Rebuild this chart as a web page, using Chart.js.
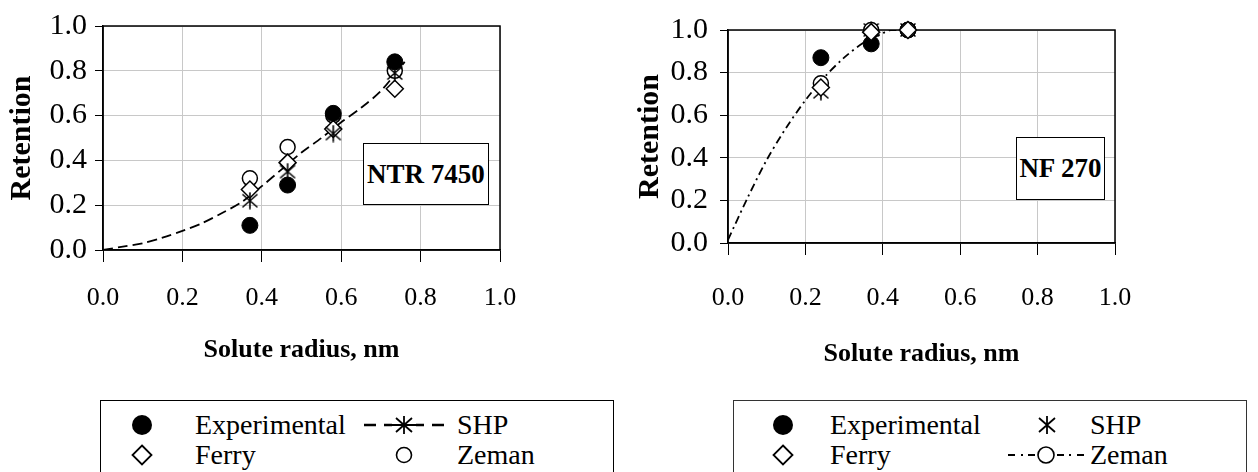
<!DOCTYPE html>
<html>
<head>
<meta charset="utf-8">
<script src="https://cdn.jsdelivr.net/npm/chart.js@4.4.0/dist/chart.umd.min.js"></script>
<style>
  body { margin: 0; background: #fff; width: 1258px; height: 472px; overflow: hidden; position: relative; font-family: "Liberation Serif", "Times New Roman", serif; }
  .cv { position: absolute; top: 0; }
  .tag { position: absolute; background: #fff; border: 1.5px solid #000; box-sizing: border-box;
         font-weight: bold; font-size: 27px; display: flex; align-items: center; justify-content: center; }
  .legend { position: absolute; top: 400px; height: 90px; border: 1.5px solid #000; box-sizing: border-box; background: #fff; }
  .lt { position: absolute; font-size: 28px; line-height: 30px; white-space: nowrap; }
  .ls { position: absolute; }
</style>
</head>
<body>
<div class="cv" style="left:0;width:620px;height:400px"><canvas id="graf_ntr"></canvas></div>
<div class="cv" style="left:620px;width:638px;height:400px"><canvas id="graf_nf"></canvas></div>

<div class="tag" style="left:363px;top:143px;width:126px;height:62px">NTR 7450</div>
<div class="tag" style="left:1016px;top:137px;width:89px;height:63px">NF 270</div>

<!-- leyendas -->
<div class="legend" style="left:100px;width:514px"></div>
<div class="legend" style="left:733px;width:514px;border-color:#333"></div>

<div id="leyendas"></div>

<script>
// --- DATOS NTR 7450 ---
const radioNtr = [0.37, 0.465, 0.58, 0.735];
const expNtr = [0.11, 0.29, 0.61, 0.84];
const shpNtr = [0.22, 0.35, 0.52, 0.79];
const ferryNtr = [0.27, 0.39, 0.54, 0.72];
const zemanNtr = [0.32, 0.46, 0.60, 0.80];
// curva del modelo SHP (línea discontinua)
const curvaNtrX = [0, 0.05, 0.1, 0.15, 0.2, 0.25, 0.3, 0.35, 0.4, 0.45, 0.5, 0.55, 0.6, 0.65, 0.7, 0.76];
const curvaNtrY = [0, 0.015, 0.03, 0.055, 0.085, 0.12, 0.165, 0.215, 0.285, 0.36, 0.435, 0.5, 0.57, 0.635, 0.71, 0.84];

// --- DATOS NF 270 ---
const radioNf = [0.24, 0.37, 0.465];
const expNf = [0.87, 0.935, 1.0];
const shpNf = [0.71, 1.0, 1.0];
const ferryNf = [0.73, 0.99, 1.0];
const zemanNf = [0.75, 1.0, 1.0];
// curva del modelo Zeman (línea discontinua)
const curvaNfX = [0, 0.05, 0.1, 0.15, 0.2, 0.25, 0.3, 0.35, 0.4, 0.42, 0.47];
const curvaNfY = [0.015, 0.21, 0.39, 0.54, 0.67, 0.78, 0.87, 0.94, 0.985, 1.0, 1.0];

const ticks = [0, 0.2, 0.4, 0.6, 0.8, 1.0];

// --- SIMBOLO ASTERISCO (X con barra vertical) ---
function hacerAsterisco(tam) {
    const c = document.createElement("canvas");
    c.width = tam; c.height = tam;
    const g = c.getContext("2d");
    g.strokeStyle = "#000";
    g.lineWidth = 1.6;
    const m = 1.5, h = tam / 2;
    g.beginPath();
    g.moveTo(m, m + 1); g.lineTo(tam - m, tam - m - 1);
    g.moveTo(tam - m, m + 1); g.lineTo(m, tam - m - 1);
    g.moveTo(h, 0.5); g.lineTo(h, tam - 0.5);
    g.stroke();
    return c;
}
const asterisco = hacerAsterisco(18);

function puntos(xs, ys) {
    return xs.map((x, i) => ({ x: x, y: ys[i] }));
}

// marco negro alrededor del área de trazado
const marco = {
    id: "marco",
    beforeDatasetsDraw(chart) {
        const a = chart.chartArea, ctx = chart.ctx;
        ctx.save();
        ctx.strokeStyle = "#000";
        ctx.lineWidth = 1.5;
        ctx.strokeRect(a.left, a.top, a.right - a.left, a.bottom - a.top);
        ctx.restore();
    }
};

function crearGrafica(id, cfg) {
    return new Chart(document.getElementById(id), {
        type: "scatter",
        data: { datasets: cfg.datasets },
        options: {
            responsive: true,
            maintainAspectRatio: false,
            animation: false,
            layout: { padding: { left: 0, top: cfg.top, right: cfg.right, bottom: 0 } },
            plugins: { legend: { display: false }, tooltip: { enabled: false } },
            scales: {
                x: {
                    type: "linear", min: 0, max: 1,
                    afterBuildTicks: s => { s.ticks = ticks.map(v => ({ value: v })); },
                    afterFit: s => { s.height = cfg.altoX; },
                    grid: { color: "#c8c8c8", lineWidth: 1, tickColor: "#000", tickLength: 12 },
                    border: { color: "#000", width: 1.5 },
                    ticks: {
                        color: "#000", padding: cfg.padX,
                        font: { family: "Liberation Serif", size: 26 },
                        callback: v => v.toFixed(1)
                    },
                    title: {
                        display: true, text: "Solute radius, nm", color: "#000",
                        font: { family: "Liberation Serif", size: 26, weight: "bold" },
                        padding: { top: 0, bottom: cfg.padTitX }
                    }
                },
                y: {
                    type: "linear", min: 0, max: 1,
                    afterBuildTicks: s => { s.ticks = ticks.map(v => ({ value: v })); },
                    afterFit: s => { s.width = cfg.anchoY; },
                    grid: { color: "#c8c8c8", lineWidth: 1, tickColor: "#000", tickLength: 8 },
                    border: { color: "#000", width: 1.5 },
                    ticks: {
                        color: "#000", padding: cfg.padY,
                        font: { family: "Liberation Serif", size: 30 },
                        callback: v => v.toFixed(1)
                    },
                    title: {
                        display: true, text: "Retention", color: "#000",
                        font: { family: "Liberation Serif", size: 30, weight: "bold" },
                        padding: { top: cfg.padTitY, bottom: 0 }
                    }
                }
            }
        },
        plugins: [marco]
    });
}

const estiloExp = { pointStyle: "circle", pointRadius: 8, backgroundColor: "#000", borderColor: "#000", borderWidth: 1, clip: false };
const estiloZeman = { pointStyle: "circle", pointRadius: 7.5, backgroundColor: "#fff", borderColor: "#000", borderWidth: 1.5, clip: false };
const estiloFerry = { pointStyle: "rectRot", pointRadius: 8.5, backgroundColor: "#fff", borderColor: "#000", borderWidth: 1.5, clip: false };
const estiloShp = { pointStyle: asterisco, pointRadius: 9, borderColor: "#000", clip: false };

// --- GRÁFICA NTR 7450 ---
crearGrafica("graf_ntr", {
    top: 24, right: 120, altoX: 150, anchoY: 103,
    padX: 21, padTitX: 34, padY: 8, padTitY: 4,
    datasets: [
        Object.assign({ label: "Experimental", data: puntos(radioNtr, expNtr), order: 0 }, estiloExp),
        Object.assign({ label: "Zeman", data: puntos(radioNtr, zemanNtr), order: 3 }, estiloZeman),
        Object.assign({ label: "Ferry", data: puntos(radioNtr, ferryNtr), order: 2 }, estiloFerry),
        Object.assign({ label: "SHP", data: puntos(radioNtr, shpNtr), order: 1 }, estiloShp),
        {
            label: "SHP curva", data: puntos(curvaNtrX, curvaNtrY), order: 5,
            showLine: true, pointRadius: 0, borderColor: "#000", borderWidth: 1.8,
            borderDash: [10, 5], tension: 0.3, fill: false
        }
    ]
});

// --- GRÁFICA NF 270 ---
crearGrafica("graf_nf", {
    top: 30, right: 143, altoX: 157, anchoY: 108,
    padX: 28, padTitX: 30, padY: 12, padTitY: 12,
    datasets: [
        Object.assign({ label: "Ferry", data: puntos(radioNf, ferryNf), order: 0 }, estiloFerry),
        Object.assign({ label: "Zeman", data: puntos(radioNf, zemanNf), order: 1 }, estiloZeman),
        Object.assign({ label: "SHP", data: puntos(radioNf, shpNf), order: 2 }, estiloShp),
        Object.assign({ label: "Experimental", data: puntos(radioNf, expNf), order: 3 }, estiloExp),
        {
            label: "Zeman curva", data: puntos(curvaNfX, curvaNfY), order: 5,
            showLine: true, pointRadius: 0, borderColor: "#000", borderWidth: 1.8,
            borderDash: [8, 4, 2, 4], tension: 0.3, fill: false
        }
    ]
});

// --- LEYENDAS (texto HTML + símbolos SVG) ---
const simbolos = {
    lleno: '<svg width="22" height="22"><circle cx="11" cy="11" r="10" fill="#000"/></svg>',
    rombo: '<svg width="22" height="22"><path d="M11 1.5 L20.5 11 L11 20.5 L1.5 11 Z" fill="#fff" stroke="#000" stroke-width="1.8"/></svg>',
    vacio: '<svg width="18" height="18"><circle cx="9" cy="9" r="7.5" fill="#fff" stroke="#000" stroke-width="1.6"/></svg>',
    aster: '<svg width="20" height="20"><path d="M2 3 L18 17 M18 3 L2 17 M10 1 L10 19" stroke="#000" stroke-width="1.8"/></svg>',
    lineaAster: '<svg width="80" height="20"><path d="M0 10 H12 M20 10 H28 M52 10 H60 M68 10 H80" stroke="#000" stroke-width="2.5"/><path d="M32 3 L48 17 M48 3 L32 17 M40 1 L40 19 M28 10 H52" stroke="#000" stroke-width="1.8"/></svg>',
    lineaCirculo: '<svg width="76" height="20"><path d="M0 10 H7 M13 10 H15 M61 10 H63 M69 10 H76" stroke="#000" stroke-width="1.8"/><path d="M20 10 H27 M49 10 H56" stroke="#000" stroke-width="1.8"/><circle cx="38" cy="10" r="8" fill="#fff" stroke="#000" stroke-width="1.6"/></svg>'
};

const leyendaItems = [
    // [tipo, centroX, centroY, texto, textoX]
    ["lleno", 142, 425, "Experimental", 195],
    ["rombo", 142, 455, "Ferry", 195],
    ["lineaAster", 404, 425, "SHP", 457],
    ["vacio", 404, 455, "Zeman", 457],
    ["lleno", 783, 425, "Experimental", 830],
    ["rombo", 783, 455, "Ferry", 830],
    ["aster", 1047, 425, "SHP", 1090],
    ["lineaCirculo", 1046, 455, "Zeman", 1090]
];

const cont = document.getElementById("leyendas");
leyendaItems.forEach(([tipo, cx, cy, texto, tx]) => {
    const s = document.createElement("div");
    s.className = "ls";
    s.innerHTML = simbolos[tipo];
    const svg = s.firstChild;
    const w = +svg.getAttribute("width"), h = +svg.getAttribute("height");
    s.style.left = (cx - w / 2) + "px";
    s.style.top = (cy - h / 2) + "px";
    s.style.lineHeight = "0";
    cont.appendChild(s);

    const t = document.createElement("div");
    t.className = "lt";
    t.textContent = texto;
    t.style.left = tx + "px";
    t.style.top = (cy - 15) + "px";
    cont.appendChild(t);
});
</script>
</body>
</html>
